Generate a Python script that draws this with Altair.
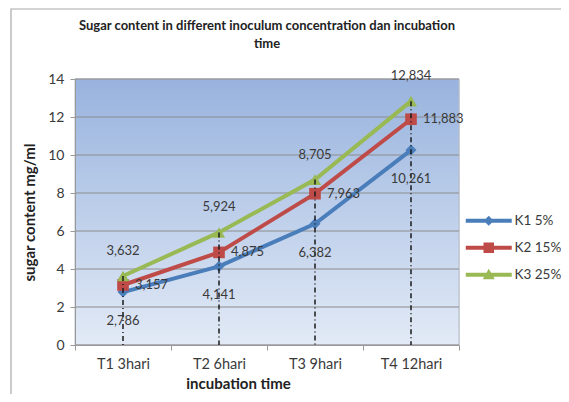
import altair as alt
import pandas as pd

categories = ["T1 3hari", "T2 6hari", "T3 9hari", "T4 12hari"]
series = ["K1 5%", "K2 15%", "K3 25%"]
k1 = [2.786, 4.141, 6.382, 10.261]
k2 = [3.157, 4.875, 7.963, 11.883]
k3 = [3.632, 5.924, 8.705, 12.834]
y_ticks = [0, 2, 4, 6, 8, 10, 12, 14]

colors = ["#4a7ebb", "#be4b48", "#98b954"]
shapes = ["diamond", "square", "triangle-up"]
sizes = [120, 150, 170]

BAR = "M-4.6,-0.4L4.6,-0.4L4.6,0.4L-4.6,0.4Z "
legend_paths = [
    BAR + "M0,-1L1,0L0,1L-1,0Z",
    BAR + "M-1.05,-1.05L1.05,-1.05L1.05,1.05L-1.05,1.05Z",
    BAR + "M0,-1.2L1.2,0.9L-1.2,0.9Z",
]

rows = []
for s, vals in zip(series, [k1, k2, k3]):
    for c, v in zip(categories, vals):
        rows.append({"cat": c, "series": s, "value": v,
                     "label": f"{v:.3f}".replace(".", ",")})
df = pd.DataFrame(rows)
grid_df = pd.DataFrame({"tick": y_ticks})
one = pd.DataFrame({"k": [0]})

FONT = "Lato"
TXT = "#3a3a3a"

x_scale = alt.Scale(type="band", domain=categories, paddingInner=0, paddingOuter=0)
x_axis = alt.Axis(title="incubation time", titleFontWeight="bold", titleFontSize=15,
                  titleFont=FONT, titleColor="#222", titleX=163, titleY=31,
                  titleAlign="center", labelAngle=0, labelFontSize=14.5, labelFont=FONT,
                  labelColor=TXT, labelPadding=7, tickSize=5, tickBand="extent",
                  tickColor="#9a9a9a", domainColor="#9a9a9a", grid=False, zindex=1)
x_enc = alt.X("cat:N", sort=categories, scale=x_scale, axis=x_axis)

y_scale = alt.Scale(domain=[0, 14], nice=False, zero=True)
y_axis = alt.Axis(title="sugar content mg/ml", titleFontWeight="bold", titleFontSize=15,
                  titleFont=FONT, titleColor="#222", titlePadding=10, values=y_ticks,
                  labelOverlap=False, labelFontSize=14, labelFont=FONT, labelColor=TXT,
                  labelPadding=6, tickSize=5, tickColor="#9a9a9a", domainColor="#9a9a9a",
                  grid=False, zindex=1)
y_enc = alt.Y("value:Q", scale=y_scale, axis=y_axis)

color_scale = alt.Scale(domain=series, range=colors)

legend = alt.Legend(
    title=None, orient="none", legendX=407, legendY=135, padding=0,
    symbolSize=100, rowPadding=12, labelOffset=19, labelFont=FONT,
    labelFontSize=13.5, labelColor=TXT, symbolStrokeWidth=0, symbolOpacity=1,
    symbolFillColor="#4a7ebb",
)

base = alt.Chart(df)

frame = alt.Chart(one).mark_rect(
    fill="transparent", stroke="#a8a8a8", strokeWidth=1.2
).encode(x=alt.value(-64), x2=alt.value(520), y=alt.value(-70), y2=alt.value(340))

backdrop = alt.Chart(one).mark_rect(
    color=alt.LinearGradient(gradient="linear", x1=0, x2=0, y1=0, y2=1,
                             stops=[alt.GradientStop(color="#98b3de", offset=0),
                                    alt.GradientStop(color="#e2eaf6", offset=1)]),
    stroke="#b4bccb", strokeWidth=1,
).encode(x=alt.value(0), x2=alt.value("width"), y=alt.value(0), y2=alt.value("height"))

grid = alt.Chart(grid_df).mark_rule(color="#8c8c8c", strokeWidth=1).encode(
    y=alt.Y("tick:Q", scale=y_scale, axis=y_axis), x=alt.value(0), x2=alt.value("width")
)

lines = base.mark_line(strokeWidth=4).encode(
    x=x_enc, y=y_enc,
    color=alt.Color("series:N", scale=color_scale, legend=None),
    detail="series:N",
)

points = base.mark_point(filled=True, opacity=1).encode(
    x=x_enc, y=y_enc,
    color=alt.Color("series:N", scale=color_scale, legend=None),
    shape=alt.Shape("series:N", scale=alt.Scale(domain=series, range=shapes), legend=None),
    size=alt.Size("series:O", scale=alt.Scale(domain=series, range=sizes), legend=None),
)

legend_layer = base.transform_filter("false").mark_point(
    filled=True, opacity=1, size=100
).encode(
    x=x_enc, y=y_enc,
    fill=alt.Fill("series:N", scale=alt.Scale(domain=series, range=colors), legend=legend),
    shape=alt.Shape("series:N", scale=alt.Scale(domain=series, range=legend_paths), legend=legend),
)

drops = base.transform_aggregate(
    top="max(value)", groupby=["cat"]
).mark_rule(color="#1a1a1a", strokeWidth=1.5, strokeDash=[5, 3, 1, 3]).encode(
    x=x_enc, y=alt.Y("top:Q", scale=y_scale, axis=y_axis), y2=alt.datum(0)
)

lab_k1 = base.transform_filter(alt.datum.series == series[0]).mark_text(
    dy=29, align="center", baseline="middle", font=FONT, fontSize=13, color=TXT
).encode(x=x_enc, y=y_enc, text="label:N")
lab_k2 = base.transform_filter(alt.datum.series == series[1]).mark_text(
    dx=12, align="left", baseline="middle", font=FONT, fontSize=13, color=TXT
).encode(x=x_enc, y=y_enc, text="label:N")
lab_k3 = base.transform_filter(alt.datum.series == series[2]).mark_text(
    dy=-25, align="center", baseline="middle", font=FONT, fontSize=13, color=TXT
).encode(x=x_enc, y=y_enc, text="label:N")

chart = alt.layer(
    frame, backdrop, grid, lines, points, legend_layer, drops, lab_k1, lab_k2, lab_k3
).resolve_scale(shape="independent", fill="independent").properties(
    width=384, height=266,
    autosize=alt.AutoSizeParams(type="none"),
    padding={"left": 67, "top": 71, "right": 102, "bottom": 49},
    title=alt.TitleParams(
        text=["Sugar content in different inoculum concentration dan incubation", "time"],
        font=FONT, fontSize=13, fontWeight="bold", color="#222", anchor="middle",
        offset=-43, lineHeight=18,
    ),
).configure_view(stroke=None).configure(background="white")

chart.save("out.html", embed_options={"renderer": "svg", "actions": False})
